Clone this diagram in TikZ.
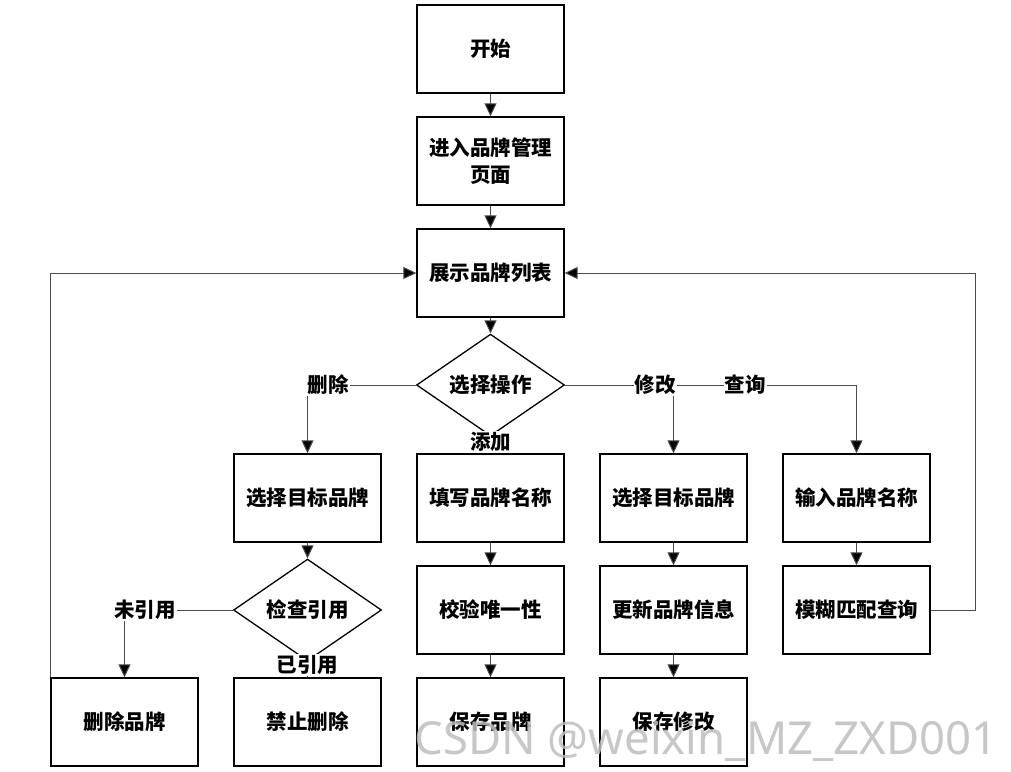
\documentclass[tikz,border=0pt]{standalone}
\usepackage{fontspec}
\newfontfamily\cjk{Noto Sans CJK SC}
\newfontfamily\wmfont{Noto Sans}
\usetikzlibrary{shapes.geometric,arrows.meta}
\begin{document}
\begin{tikzpicture}[x=1pt,y=-1pt,
  every node/.style={font=\cjk\bfseries\fontsize{20.5}{27}\selectfont},
  box/.style={draw=black,line width=1.3pt,minimum width=147pt,minimum height=88pt,inner sep=0pt,align=center},
  dec/.style={draw=black,line width=1.3pt,shape=diamond,minimum width=148pt,minimum height=86pt,inner sep=0pt,align=center},
  conn/.style={draw=black!70,line width=1pt},
  arr/.style={conn,-{Triangle[length=13pt,width=12pt,fill=black]}},
  lbl/.style={fill=white,inner sep=1pt}]
\useasboundingbox (0,0) rectangle (1011,771);
\fill[white] (0,0) rectangle (1011,771);
% main column
\node[box] (start) at (490.5,49) {开始};
\node[box] (enter) at (490.5,161) {进入品牌管理\\页面};
\node[box] (list) at (490.5,273) {展示品牌列表};
\node[dec] (op) at (490.5,385) {选择操作};
% second row
\node[box] (selA) at (307.5,498) {选择目标品牌};
\node[box] (fillB) at (490.5,498) {填写品牌名称};
\node[box] (selC) at (673.5,498) {选择目标品牌};
\node[box] (inD) at (856.5,498) {输入品牌名称};
% third row
\node[dec] (check) at (307.5,610) {检查引用};
\node[box] (verify) at (490.5,610) {校验唯一性};
\node[box] (update) at (673.5,610) {更新品牌信息};
\node[box] (fuzzy) at (856.5,610) {模糊匹配查询};
% fourth row
\node[box] (del) at (124.5,722) {删除品牌};
\node[box] (forbid) at (307.5,722) {禁止删除};
\node[box] (saveB) at (490.5,722) {保存品牌};
\node[box] (saveC) at (673.5,722) {保存修改};
\coordinate (rt) at (975,610);
% connectors
\draw[arr] (start) -- (enter);
\draw[arr] (enter) -- (list);
\draw[arr] (list) -- (op);
\draw[arr] (op.west) -| (selA.north);
\draw[arr] (op.east) -| (inD.north);
\draw[arr] (selC.north |- op.east) -- (selC.north);
\draw[arr] (op.south) -- (fillB.north);
\draw[arr] (selA) -- (check);
\draw[arr] (fillB) -- (verify);
\draw[arr] (selC) -- (update);
\draw[arr] (inD) -- (fuzzy);
\draw[arr] (check.west) -| (del.north);
\draw[arr] (check.south) -- (forbid.north);
\draw[arr] (verify) -- (saveB);
\draw[arr] (update) -- (saveC);
\draw[arr] (del.north west) |- (list.west);
\draw[arr] (fuzzy.east) -- (rt) |- (list.east);
% labels
\node[lbl] (lDel) at (328,385) {删除};
\node[lbl] (lMod) at (655,385) {修改};
\node[lbl] (lQry) at (745,385) {查询};
\node[lbl] (lAdd) at (490.5,442) {添加};
\node[lbl] (lUn) at (145,610) {未引用};
\node[lbl] (lRef) at (307.5,665) {已引用};
% watermark
\node[font=\wmfont\fontsize{45.5}{45}\selectfont,text={rgb,255:red,190;green,190;blue,190},text opacity=0.85,inner sep=0pt] (wm) at (706,741) {CSDN @weixin\_MZ\_ZXD001};
\end{tikzpicture}
\end{document}
